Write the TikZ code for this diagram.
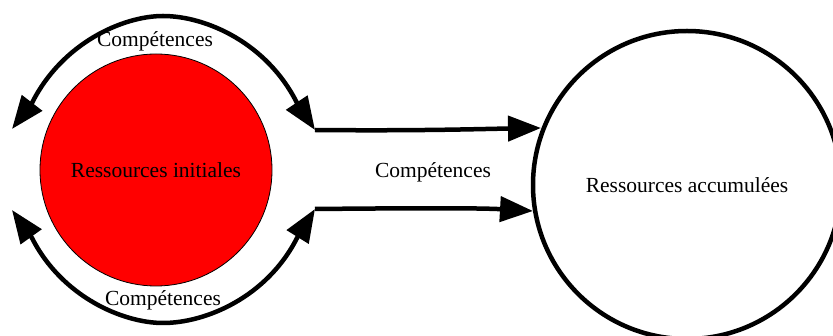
\documentclass[tikz,border=0pt]{standalone}
\usepackage{fontspec}
\setmainfont{Liberation Serif}
\usetikzlibrary{arrows.meta}
\begin{document}
\begin{tikzpicture}[x=1pt,y=-1pt,
  >={Triangle[length=33pt,width=25pt]},
  lbl/.style={font=\rmfamily\fontsize{21.5}{25}\selectfont,inner sep=0pt},
  res/.style={circle,inner sep=0pt,font=\rmfamily\fontsize{21.5}{25}\selectfont},
  flow/.style={line width=4.5pt,->},
  both/.style={line width=4.5pt,<->,line join=round}]
\useasboundingbox (0,0) rectangle (833,336);
\node[res,draw=black,line width=0.8pt,fill=red,minimum size=232pt] (ini) at (156,170) {Ressources initiales};
\node[res,draw=black,line width=4.5pt,minimum size=308pt] (acc) at (687,185) {Ressources accumulées};
\coordinate (tl) at (12,129);
\coordinate (tlb) at (32,103);
\coordinate (tr) at (315,130);
\coordinate (trb) at (297,103);
\coordinate (bl) at (12,210);
\coordinate (blb) at (32,238);
\coordinate (br) at (315,209);
\coordinate (brb) at (297,238);
\coordinate (ta) at (541,128);
\coordinate (ba) at (533,211);
\draw[both] (tl) -- (tlb) .. controls (62,43) and (123,16) .. (163,16)
  .. controls (206,16) and (267,43) .. (trb) -- (tr);
\draw[both] (bl) -- (blb) .. controls (62,297) and (123,323) .. (163,323)
  .. controls (206,323) and (267,297) .. (brb) -- (br);
\draw[flow] (tr) .. controls (420,131) and (480,129) .. (ta);
\draw[flow] (br) .. controls (420,208) and (480,208) .. (ba);
\node[lbl] (l1) at (155,41) {Compétences};
\node[lbl] (l2) at (163,300) {Compétences};
\node[lbl] (l3) at (433,172) {Compétences};
\end{tikzpicture}
\end{document}
